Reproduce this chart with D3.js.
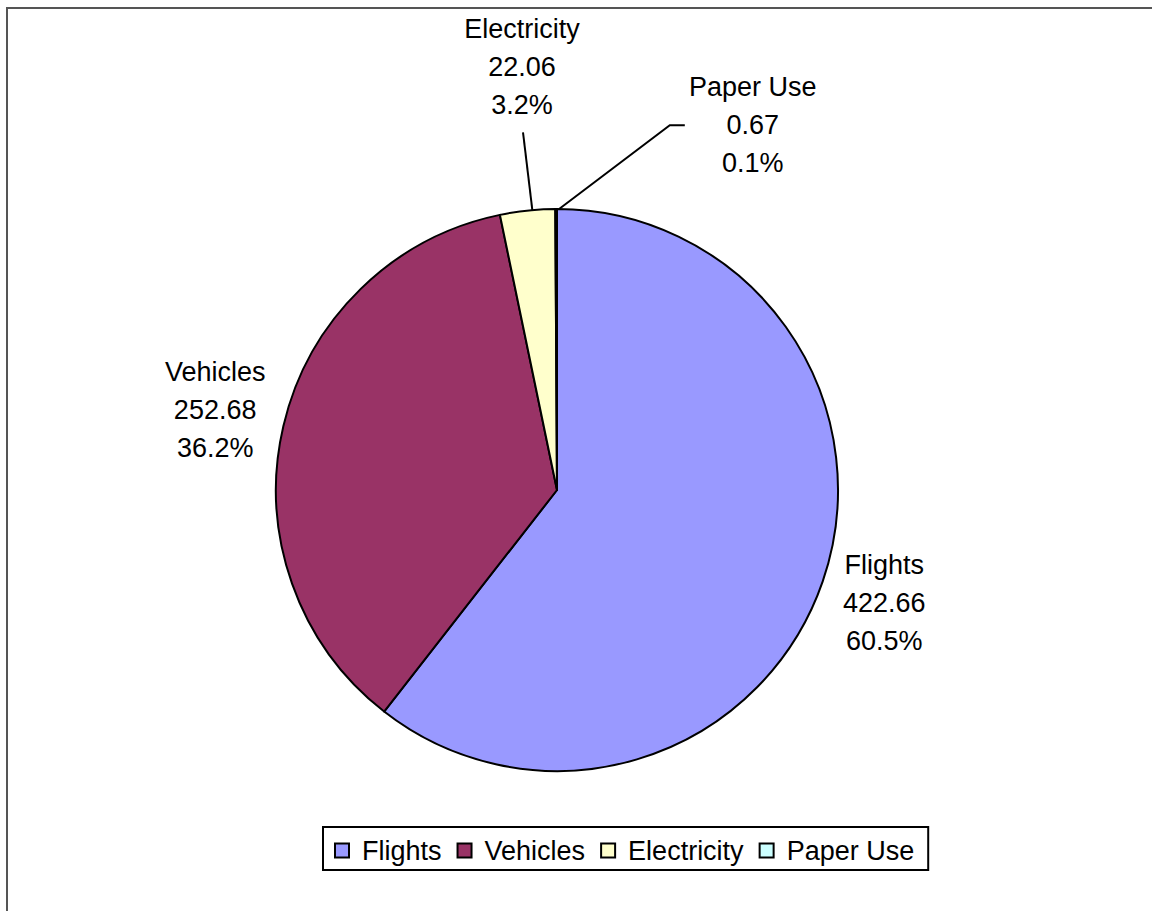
<!DOCTYPE html>
<html>
<head>
<meta charset="utf-8">
<script src="https://cdn.jsdelivr.net/npm/d3@7"></script>
<style>
  body { margin: 0; background: #fff; }
  text { font-family: "Liberation Sans", Arial, sans-serif; fill: #000; }
</style>
</head>
<body>
<div id="chart"></div>
<script>
// chart data
const categories = ["Flights", "Vehicles", "Electricity", "Paper Use"];
const values = [422.66, 252.68, 22.06, 0.67];
const percents = ["60.5%", "36.2%", "3.2%", "0.1%"];
const colors = ["#9999FF", "#993366", "#FFFFCC", "#CCFFFF"];

const w = 1152;
const h = 911;
const cx = 557;
const cy = 490;
const radius = 281;
const fontSize = 27;
const lineGap = 38;

const svg = d3.select("#chart")
              .append("svg")
              .attr("width", w)
              .attr("height", h);

// outer frame (right and bottom edges run off the picture)
svg.append("rect")
   .attr("x", 7)
   .attr("y", 8)
   .attr("width", w + 20)
   .attr("height", h + 20)
   .attr("fill", "none")
   .attr("stroke", "#555")
   .attr("stroke-width", 2);

const data = categories.map((c, i) => ({ name: c, value: values[i], pct: percents[i], color: colors[i] }));

const pie = d3.pie().sort(null).value(d => d.value);
const arcs = pie(data);
const arc = d3.arc().innerRadius(0).outerRadius(radius);

const g = svg.append("g").attr("transform", `translate(${cx},${cy})`);

g.selectAll("path")
 .data(arcs)
 .enter()
 .append("path")
 .attr("d", arc)
 .attr("fill", d => d.data.color)
 .attr("stroke", "#000")
 .attr("stroke-width", 2)
 .attr("stroke-linejoin", "round");

// label placement: radius and angle shift (small slices pushed out like Excel does)
const deg = Math.PI / 180;
const placement = [
  { r: 346, shift: 0 },
  { r: 351, shift: 0 },
  { r: 424, shift: 1.3 * deg },
  { r: 414, shift: 28.4 * deg }
];

function polar(r, a) {
  return [Math.sin(a) * r, -Math.cos(a) * r];
}

const labelPos = arcs.map((d, i) => {
  const mid = (d.startAngle + d.endAngle) / 2;
  return polar(placement[i].r, mid + placement[i].shift);
});

// leader lines for the two small slices
const line = d3.line();
[2, 3].forEach(i => {
  const d = arcs[i];
  const mid = (d.startAngle + d.endAngle) / 2;
  const [lx, ly] = labelPos[i];
  let pts;
  if (i === 2) {
    pts = [polar(radius, mid + 1 * deg), [lx + 1, ly + 65]];
  } else {
    pts = [polar(radius, mid + 0.6 * deg), [lx - 83, ly], [lx - 68, ly]];
  }
  g.append("path")
   .attr("d", line(pts))
   .attr("fill", "none")
   .attr("stroke", "#000")
   .attr("stroke-width", 2);
});

const labels = g.selectAll("g.label")
                .data(arcs)
                .enter()
                .append("g")
                .attr("class", "label")
                .attr("transform", (d, i) => `translate(${labelPos[i][0]},${labelPos[i][1]})`);

labels.each(function(d) {
  const lines = [d.data.name, d3.format(".2f")(d.data.value), d.data.pct];
  d3.select(this).selectAll("text")
    .data(lines)
    .enter()
    .append("text")
    .attr("x", 0)
    .attr("y", (t, k) => (k - 1) * lineGap + 9)
    .attr("text-anchor", "middle")
    .style("font-size", fontSize + "px")
    .text(t => t);
});

// legend
const legend = svg.append("g").attr("id", "legend");
const legendBox = legend.append("rect")
      .attr("x", 323)
      .attr("y", 827)
      .attr("height", 43)
      .attr("fill", "#fff")
      .attr("stroke", "#000")
      .attr("stroke-width", 2);

let xPos = 335;
let textEnd = xPos;
data.forEach(d => {
  legend.append("rect")
        .attr("x", xPos)
        .attr("y", 843.5)
        .attr("width", 14)
        .attr("height", 14)
        .attr("fill", d.color)
        .attr("stroke", "#000")
        .attr("stroke-width", 2);
  const t = legend.append("text")
        .attr("x", xPos + 27)
        .attr("y", 860)
        .style("font-size", fontSize + "px")
        .text(d.name);
  textEnd = xPos + 27 + t.node().getComputedTextLength();
  xPos = textEnd + 16;
});
legendBox.attr("width", textEnd + 14 - 323);
</script>
</body>
</html>
